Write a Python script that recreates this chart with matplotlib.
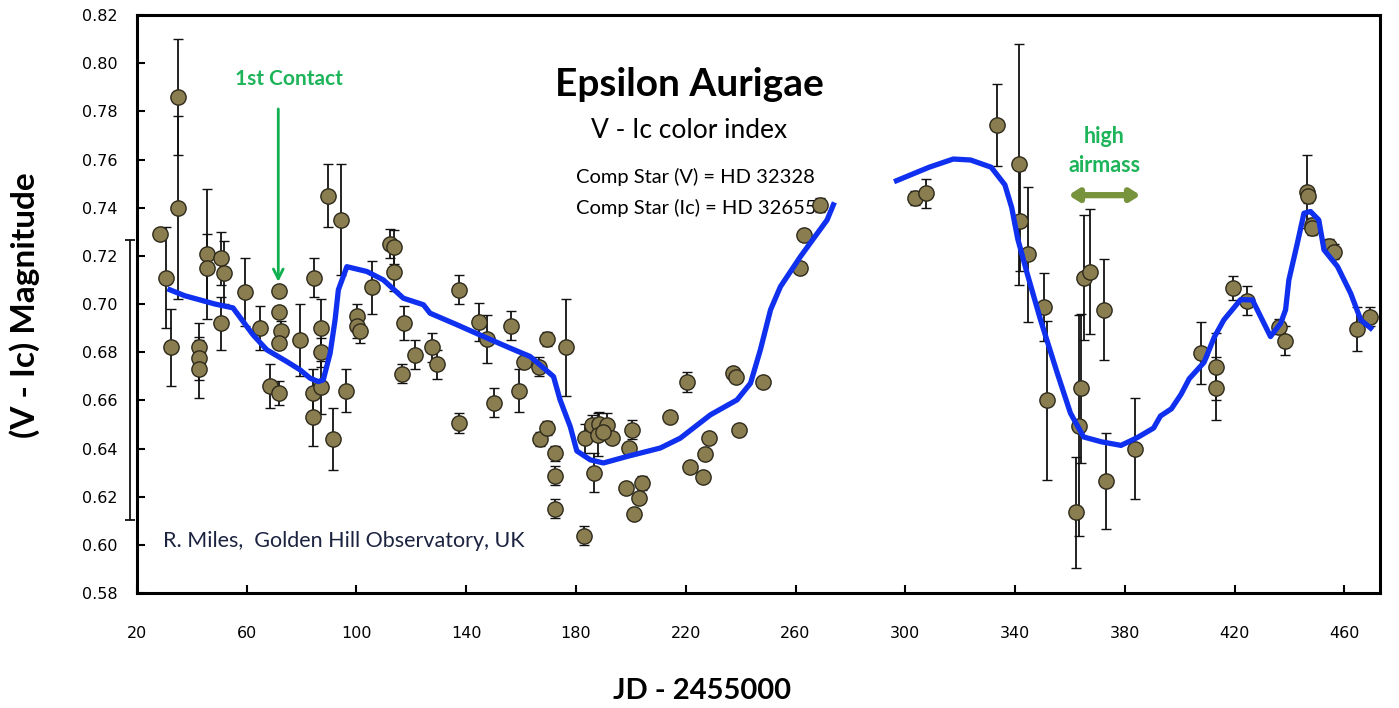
import matplotlib.pyplot as plt

# observed V-Ic points: JD - 2455000, magnitude, error
jd = [28.3, 30.7, 32.5, 34.8, 34.8, 42.5, 42.5, 42.5, 45.5, 45.5,
      50.6, 51.8, 50.6, 59.3, 64.7, 68.4, 71.6, 71.6, 72.6, 71.6,
      71.6, 79.3, 84.4, 84.2, 84.2, 87.2, 87.2, 87.2, 89.5, 94.4,
      91.5, 96.3, 105.5, 100.2, 100.2, 101.2, 112.3, 113.7, 113.5, 117.5,
      121.4, 116.5, 127.5, 129.3, 137.5, 137.5, 144.5, 147.5, 150.3, 156.4,
      159.3, 161.1, 166.4, 169.4, 176.3, 166.7, 169.4, 172.4, 172.4, 172.4,
      183.4, 185.8, 188.5, 191.3, 188.2, 193.1, 190.0, 186.4, 183.0, 200.4,
      199.2, 198.3, 204.0, 203.1, 201.2, 214.4, 220.4, 221.4, 228.3, 227.1,
      226.3, 237.2, 238.4, 239.3, 248.2, 261.5, 263.2, 269.0,
      303.7, 307.5, 333.5, 341.3, 341.8, 344.7, 350.5, 351.5, 363.9, 363.3,
      362.4, 365.0, 367.2, 372.3, 373.3, 383.6, 407.6, 413.4, 413.4, 419.5,
      424.4, 436.2, 438.3, 446.4, 446.6, 448.1, 448.3, 454.5, 456.3, 464.5,
      469.4]
mag = [0.729, 0.711, 0.682, 0.786, 0.740, 0.682, 0.6775, 0.673, 0.7207, 0.715,
       0.719, 0.713, 0.692, 0.705, 0.690, 0.666, 0.7055, 0.6965, 0.689, 0.684,
       0.663, 0.685, 0.711, 0.663, 0.653, 0.690, 0.680, 0.6655, 0.745, 0.735,
       0.644, 0.664, 0.707, 0.695, 0.691, 0.689, 0.725, 0.7236, 0.7135, 0.692,
       0.679, 0.671, 0.682, 0.675, 0.706, 0.6506, 0.6925, 0.6855, 0.659, 0.691,
       0.664, 0.676, 0.674, 0.6855, 0.682, 0.644, 0.6485, 0.638, 0.6287, 0.615,
       0.6443, 0.6498, 0.6503, 0.6498, 0.6457, 0.6443, 0.6467, 0.630, 0.6038, 0.6478,
       0.6404, 0.6236, 0.6257, 0.6194, 0.6128, 0.653, 0.6676, 0.6325, 0.6443, 0.6378,
       0.628, 0.6713, 0.6696, 0.6478, 0.6676, 0.7151, 0.7287, 0.741,
       0.744, 0.746, 0.7745, 0.758, 0.7346, 0.7207, 0.6987, 0.660, 0.665, 0.6495,
       0.6135, 0.711, 0.7135, 0.6976, 0.6265, 0.640, 0.6796, 0.674, 0.665, 0.7068,
       0.7014, 0.6906, 0.6847, 0.7467, 0.7449, 0.7329, 0.7315, 0.7241, 0.7218, 0.6896,
       0.6948]
err = [0.0, 0.021, 0.016, 0.024, 0.038, 0.010, 0.009, 0.012, 0.027, 0.014,
       0.011, 0.013, 0.011, 0.014, 0.009, 0.009, 0.0, 0.0, 0.004, 0.0,
       0.005, 0.015, 0.008, 0.010, 0.012, 0.012, 0.006, 0.011, 0.013, 0.023,
       0.013, 0.009, 0.011, 0.005, 0.005, 0.005, 0.006, 0.007, 0.008, 0.007,
       0.006, 0.004, 0.006, 0.006, 0.006, 0.004, 0.008, 0.010, 0.006, 0.006,
       0.009, 0.002, 0.004, 0.003, 0.020, 0.003, 0.003, 0.003, 0.004, 0.004,
       0.006, 0.004, 0.005, 0.005, 0.009, 0.002, 0.003, 0.008, 0.004, 0.004,
       0.002, 0.0, 0.003, 0.002, 0.002, 0.002, 0.004, 0.001, 0.0, 0.0,
       0.0, 0.0, 0.0, 0.0, 0.0, 0.0, 0.0, 0.003,
       0.003, 0.006, 0.017, 0.050, 0.021, 0.028, 0.014, 0.033, 0.031, 0.046,
       0.023, 0.026, 0.026, 0.021, 0.020, 0.021, 0.013, 0.014, 0.013, 0.005,
       0.006, 0.003, 0.006, 0.015, 0.003, 0.003, 0.003, 0.003, 0.003, 0.009,
       0.004]

# stray point just left of the plotted range (only its error bar shows)
stray_jd, stray_mag, stray_err = 17.4, 0.6685, 0.058

# smoothed trend, two segments
fit1_jd = [32.0, 37.5, 43.0, 48.4, 55.0, 62.3, 67.3, 74.6, 79.4, 83.1,
           86.1, 87.9, 90.4, 92.2, 93.4, 96.5, 103.8, 109.8, 117.1, 124.4,
           126.8, 136.6, 146.3, 156.0, 163.3, 171.8, 174.2, 177.9, 180.3, 185.2,
           190.0, 198.6, 210.7, 218.0, 229.0, 238.7, 243.6, 247.2, 250.9, 254.5,
           261.8, 271.5, 273.8]
fit1_mag = [0.7059, 0.7034, 0.7017, 0.700, 0.6984, 0.6872, 0.681, 0.6761, 0.6727, 0.6692,
            0.6678, 0.6685, 0.6796, 0.6934, 0.7059, 0.7155, 0.7135, 0.710, 0.7024, 0.6997,
            0.6962, 0.6914, 0.6865, 0.6817, 0.6782, 0.6699, 0.6602, 0.6491, 0.6390, 0.6353,
            0.634, 0.6367, 0.6402, 0.6443, 0.654, 0.6602, 0.6671, 0.681, 0.6976, 0.7072,
            0.7197, 0.7349, 0.7412]
fit2_jd = [296.8, 308.7, 317.5, 323.8, 331.3, 336.3, 338.8, 341.0, 344.4, 349.3,
           355.4, 360.2, 365.0, 371.4, 378.6, 384.5, 390.5, 393.0, 397.0, 400.5,
           403.5, 408.9, 412.6, 416.1, 422.2, 426.5, 429.5, 433.1, 436.8, 438.6,
           439.8, 442.9, 445.3, 447.7, 450.7, 452.6, 457.5, 462.3, 466.0, 469.6]
fit2_mag = [0.7512, 0.7568, 0.7602, 0.7598, 0.7568, 0.7495, 0.740, 0.727, 0.7128, 0.6934,
            0.6713, 0.6547, 0.6448, 0.6428, 0.6413, 0.6445, 0.6485, 0.6535, 0.6565, 0.6625,
            0.669, 0.6758, 0.6862, 0.6934, 0.7018, 0.7017, 0.6948, 0.6865, 0.692, 0.6976,
            0.710, 0.7253, 0.7377, 0.7384, 0.7349, 0.7225, 0.7156, 0.7045, 0.6934, 0.690]

fig = plt.figure(figsize=(13.99, 7.08), dpi=100)
ax = fig.add_axes([0.0979, 0.1624, 0.8885, 0.8164])

ax.errorbar(jd, mag, yerr=err, fmt='o', ms=11, mfc='#8a7d4f', mec='#2e2a1c',
            mew=1.0, ecolor='#111111', elinewidth=1.3, capsize=3.5, capthick=1.3, zorder=3)
ax.errorbar([stray_jd], [stray_mag], yerr=[stray_err], fmt='none', ecolor='#111111',
            elinewidth=1.3, capsize=3.5, capthick=1.3, clip_on=False)
ax.plot(fit1_jd, fit1_mag, color='#1030f0', lw=3.8, zorder=4)
ax.plot(fit2_jd, fit2_mag, color='#1030f0', lw=3.8, zorder=4)

ax.set_xlim(20, 473)
ax.set_ylim(0.58, 0.82)
ax.set_xticks(range(20, 461, 40))
ax.set_yticks([0.58 + 0.02 * i for i in range(13)])
ax.set_yticklabels(['%.2f' % (0.58 + 0.02 * i) for i in range(13)])

tickfont = ['Liberation Sans Narrow', 'DejaVu Sans']
for lab in ax.get_xticklabels() + ax.get_yticklabels():
    lab.set_family(tickfont)
    lab.set_fontsize(11.5)
ax.tick_params(axis='both', direction='in', length=6, width=1.5, colors='black')
ax.tick_params(axis='x', pad=24)
ax.tick_params(axis='y', pad=14)
for s in ax.spines.values():
    s.set_linewidth(2.2)

ax.set_xlabel('JD - 2455000', fontsize=21, fontweight='bold', family='Lato')
ax.set_ylabel('(V - Ic) Magnitude', fontsize=24, fontweight='bold', family='Lato')
ax.xaxis.set_label_coords(0.4545, -0.147)
ax.yaxis.set_label_coords(-0.078, 0.498)

ax.text(0.4444, 0.879, 'Epsilon Aurigae', transform=ax.transAxes, ha='center', va='center',
        fontsize=28, fontweight='bold', family='Lato')
ax.text(0.4444, 0.800, 'V - Ic color index', transform=ax.transAxes, ha='center', va='center',
        fontsize=19, family='Lato')
ax.text(0.3533, 0.720, 'Comp Star (V) = HD 32328', transform=ax.transAxes, ha='left', va='center',
        fontsize=14.5, family='Lato')
ax.text(0.3533, 0.667, 'Comp Star (Ic) = HD 32655', transform=ax.transAxes, ha='left', va='center',
        fontsize=14.5, family='Lato', zorder=2)
ax.text(0.021, 0.090, 'R. Miles,  Golden Hill Observatory, UK', transform=ax.transAxes,
        ha='left', va='center', fontsize=15.5, family='Lato', color='#1c2340')

green = '#1db45a'
ax.text(75.5, 0.7935, '1st Contact', ha='center', va='center', fontsize=15,
        fontweight='bold', family='Lato', color=green)
ax.annotate('', xy=(71.5, 0.7092), xytext=(71.5, 0.781),
            arrowprops=dict(arrowstyle='->,head_length=0.7,head_width=0.35',
                            color='#10b050', lw=2, shrinkA=0, shrinkB=0))
ax.text(372.5, 0.7695, 'high', ha='center', va='center', fontsize=15.5,
        fontweight='bold', family='Lato', color=green)
ax.text(372.5, 0.7575, 'airmass', ha='center', va='center', fontsize=15.5,
        fontweight='bold', family='Lato', color=green)
ax.annotate('', xy=(359.5, 0.7452), xytext=(385.7, 0.7452),
            arrowprops=dict(arrowstyle='<|-|>,head_length=0.55,head_width=0.35',
                            color='#77933c', lw=4.5, shrinkA=0, shrinkB=0))

fig.savefig('out.png', dpi=100)
